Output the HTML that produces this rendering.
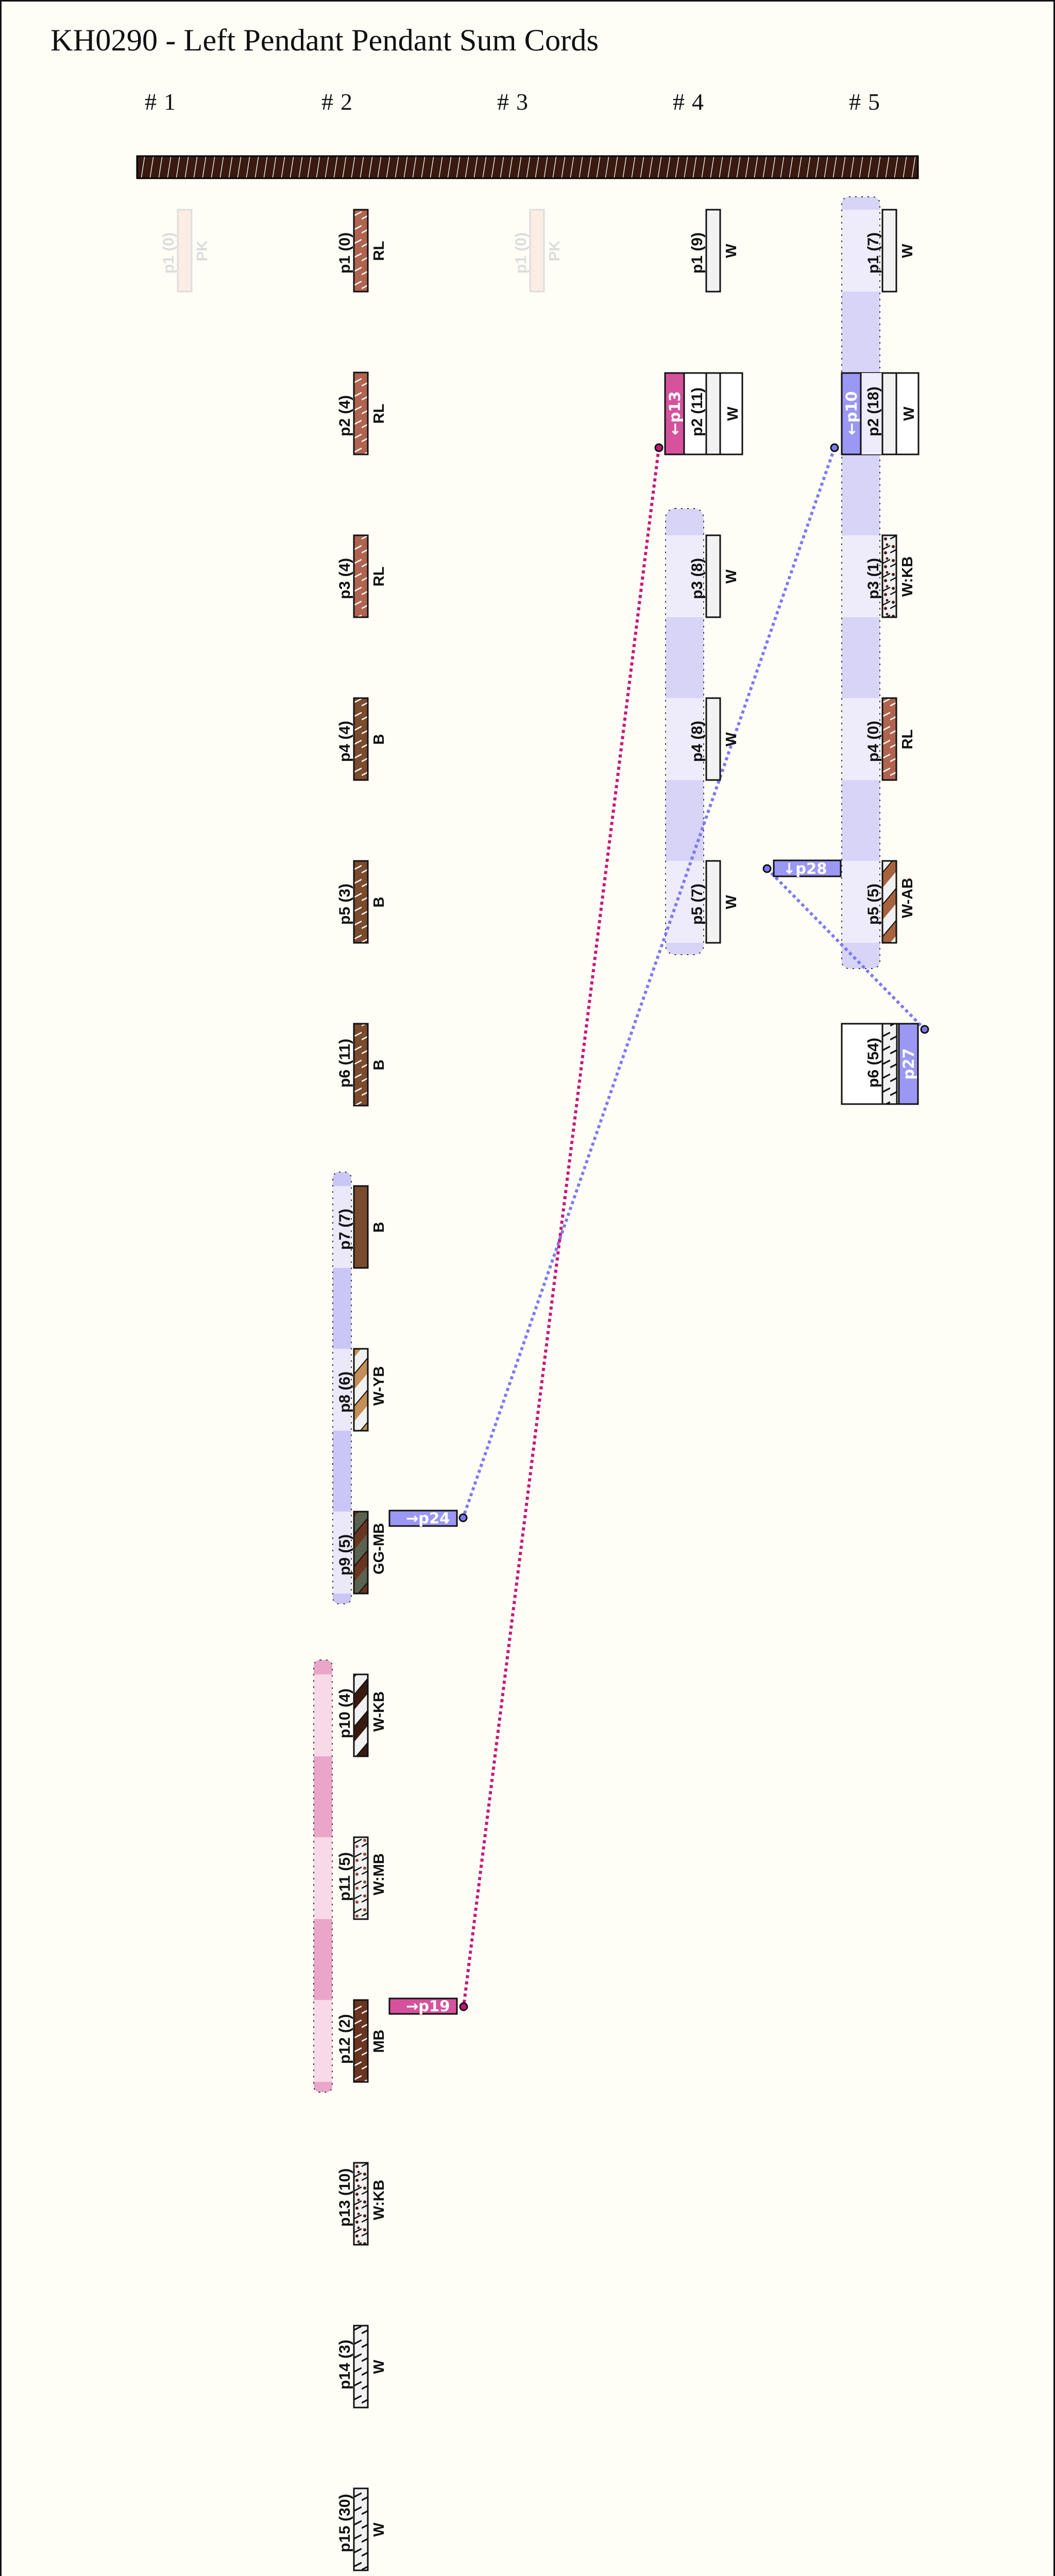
<!DOCTYPE html>
<html><head><meta charset="utf-8"><style>
html,body{margin:0;padding:0;background:#fefef7;width:2048px;height:5406px;overflow:hidden}
svg{display:block}
.pl{font-family:"Liberation Sans","DejaVu Sans",sans-serif;font-size:30px;font-weight:bold;fill:#111}
.cl{font-family:"Liberation Sans","DejaVu Sans",sans-serif;font-size:29px;font-weight:bold;fill:#111}
.fd{fill:#dcdcdc}
.wt{font-family:"DejaVu Sans","Liberation Sans",sans-serif;font-size:29px;font-weight:bold;fill:#fff}
</style></head><body>
<svg width="2048" height="5406" viewBox="0 0 2048 5406" xmlns="http://www.w3.org/2000/svg">
<defs>
<pattern id="bar" width="17" height="45" patternUnits="userSpaceOnUse" y="302"><rect width="17" height="45" fill="#3a1a10"/><line x1="2" y1="45" x2="9" y2="0" stroke="#fff" stroke-width="1.3"/></pattern>
<pattern id="rl" width="27" height="27" patternUnits="userSpaceOnUse"><rect width="27" height="27" fill="#b0644f"/><line x1="0" y1="20" x2="27" y2="6" stroke="#fff" stroke-width="2.5"/></pattern>
<pattern id="b" width="27" height="27" patternUnits="userSpaceOnUse"><rect width="27" height="27" fill="#7a4b2d"/><line x1="0" y1="20" x2="27" y2="6" stroke="#fff" stroke-width="2.5"/></pattern>
<pattern id="mb" width="27" height="27" patternUnits="userSpaceOnUse"><rect width="27" height="27" fill="#6a3520"/><line x1="0" y1="20" x2="27" y2="6" stroke="#fff" stroke-width="2.5"/></pattern>
<pattern id="w" width="27" height="27" patternUnits="userSpaceOnUse"><rect width="27" height="27" fill="#f1f1f1"/><line x1="0" y1="20" x2="27" y2="6" stroke="#111" stroke-width="3"/></pattern>
<pattern id="wab" width="40" height="40" patternUnits="userSpaceOnUse" patternTransform="rotate(-50)"><rect width="40" height="40" fill="#f1f1f1"/><rect width="40" height="20" fill="#a8633c"/><line x1="0" y1="0" x2="40" y2="0" stroke="#111" stroke-width="4"/></pattern>
<pattern id="wyb" width="40" height="40" patternUnits="userSpaceOnUse" patternTransform="rotate(-50)"><rect width="40" height="40" fill="#f1f1f1"/><rect width="40" height="20" fill="#c28f58"/><line x1="0" y1="0" x2="40" y2="0" stroke="#111" stroke-width="4"/></pattern>
<pattern id="wkb" width="40" height="40" patternUnits="userSpaceOnUse" patternTransform="rotate(-50)"><rect width="40" height="40" fill="#f1f1f1"/><rect width="40" height="20" fill="#3a1a10"/><line x1="0" y1="0" x2="40" y2="0" stroke="#111" stroke-width="4"/></pattern>
<pattern id="ggmb" width="40" height="40" patternUnits="userSpaceOnUse" patternTransform="rotate(-50)"><rect width="40" height="40" fill="#5c6250"/><rect width="40" height="20" fill="#6a3520"/><line x1="0" y1="0" x2="40" y2="0" stroke="#111" stroke-width="4"/></pattern>
<pattern id="spk" width="27" height="27" patternUnits="userSpaceOnUse"><rect width="27" height="27" fill="#f1f1f1"/><line x1="0" y1="20" x2="27" y2="6" stroke="#111" stroke-width="2.5"/><circle cx="6" cy="8" r="3" fill="#4a1a10"/><circle cx="18" cy="20" r="3" fill="#4a1a10"/><circle cx="21" cy="4" r="2.5" fill="#4a1a10"/></pattern>
<pattern id="spm" width="27" height="27" patternUnits="userSpaceOnUse"><rect width="27" height="27" fill="#f1f1f1"/><line x1="0" y1="20" x2="27" y2="6" stroke="#111" stroke-width="2.5"/><circle cx="6" cy="8" r="3" fill="#8a4a2a"/><circle cx="18" cy="20" r="3" fill="#8a4a2a"/></pattern>
</defs>
<rect x="1.5" y="1.5" width="2045" height="5403" fill="#fefef7" stroke="#111" stroke-width="3"/>
<text x="98" y="98" font-family="Liberation Serif,serif" font-size="60" textLength="1064" lengthAdjust="spacingAndGlyphs" fill="#111">KH0290 - Left Pendant Pendant Sum Cords</text>
<g font-family="Liberation Serif,serif" font-size="46" fill="#111">
<text x="281" y="213">#</text><text x="318" y="213">1</text>
<text x="624" y="213">#</text><text x="661" y="213">2</text>
<text x="965" y="213">#</text><text x="1002" y="213">3</text>
<text x="1306" y="213">#</text><text x="1343" y="213">4</text>
<text x="1648" y="213">#</text><text x="1685" y="213">5</text>
</g>
<rect x="266" y="303" width="1516" height="43" fill="url(#bar)" stroke="#000" stroke-width="3"/>

<rect x="1634" y="382" width="74" height="1498" rx="14" fill="#d7d4f7"/>
<g fill="#eeecfa"><rect x="1634" y="407" width="74" height="159"/><rect x="1634" y="723" width="74" height="159"/><rect x="1634" y="1039" width="74" height="159"/><rect x="1634" y="1355" width="74" height="159"/><rect x="1634" y="1671" width="74" height="159"/></g>
<rect x="1634" y="382" width="74" height="1498" rx="14" fill="none" stroke="#333" stroke-width="2" stroke-dasharray="3 9"/>

<rect x="1292" y="987" width="74" height="866" rx="18" fill="#d7d4f7"/>
<g fill="#eeecfa"><rect x="1292" y="1039" width="74" height="159"/><rect x="1292" y="1355" width="74" height="159"/><rect x="1292" y="1671" width="74" height="159"/></g>
<rect x="1292" y="987" width="74" height="866" rx="18" fill="none" stroke="#333" stroke-width="2" stroke-dasharray="3 9"/>

<rect x="646" y="2275" width="36" height="838" rx="12" fill="#cac7f7"/>
<g fill="#eae8f9"><rect x="646" y="2302" width="36" height="159"/><rect x="646" y="2618" width="36" height="159"/><rect x="646" y="2934" width="36" height="159"/></g>
<rect x="646" y="2275" width="36" height="838" rx="12" fill="none" stroke="#333" stroke-width="2" stroke-dasharray="3 9"/>

<rect x="609" y="3222" width="36" height="839" rx="12" fill="#eaa6c9"/>
<g fill="#f8d9e6"><rect x="609" y="3250" width="36" height="159"/><rect x="609" y="3566" width="36" height="159"/><rect x="609" y="3882" width="36" height="159"/></g>
<rect x="609" y="3222" width="36" height="839" rx="12" fill="none" stroke="#333" stroke-width="2" stroke-dasharray="3 9"/>

<g fill="none" stroke-width="6" stroke-dasharray="6 6">
<line x1="1279" y1="869" x2="900" y2="3895" stroke="#c8157a"/>
<line x1="1620" y1="869" x2="899" y2="2946" stroke="#7d79f2"/>
<line x1="1489" y1="1686" x2="1795" y2="1998" stroke="#7d79f2"/>
</g>

<rect x="345" y="407" width="27" height="159" fill="#fbece4" stroke="#ddd" stroke-width="3"/>
<text class="pl fd" transform="translate(337,531) rotate(-90)">p1 (0)</text>
<text class="cl fd" transform="translate(402,487) rotate(-90)" text-anchor="middle">PK</text>
<rect x="1029" y="407" width="27" height="159" fill="#fbece4" stroke="#ddd" stroke-width="3"/>
<text class="pl fd" transform="translate(1021,531) rotate(-90)">p1 (0)</text>
<text class="cl fd" transform="translate(1086,487) rotate(-90)" text-anchor="middle">PK</text>

<g stroke="#111" stroke-width="3">
<rect x="687" y="407" width="27" height="159" fill="url(#rl)"/>
<rect x="687" y="723" width="27" height="159" fill="url(#rl)"/>
<rect x="687" y="1039" width="27" height="159" fill="url(#rl)"/>
<rect x="687" y="1355" width="27" height="159" fill="url(#b)"/>
<rect x="687" y="1671" width="27" height="159" fill="url(#b)"/>
<rect x="687" y="1987" width="27" height="159" fill="url(#b)"/>
<rect x="687" y="2302" width="27" height="159" fill="#7a4b2d"/>
<rect x="687" y="2618" width="27" height="159" fill="url(#wyb)"/>
<rect x="687" y="2934" width="27" height="159" fill="url(#ggmb)"/>
<rect x="687" y="3250" width="27" height="159" fill="url(#wkb)"/>
<rect x="687" y="3566" width="27" height="159" fill="url(#spm)"/>
<rect x="687" y="3882" width="27" height="159" fill="url(#mb)"/>
<rect x="687" y="4198" width="27" height="159" fill="url(#spk)"/>
<rect x="687" y="4514" width="27" height="159" fill="url(#w)"/>
<rect x="687" y="4830" width="27" height="159" fill="url(#w)"/>
</g>
<text class="pl" transform="translate(679,531) rotate(-90)">p1 (0)</text>
<text class="pl" transform="translate(679,847) rotate(-90)">p2 (4)</text>
<text class="pl" transform="translate(679,1163) rotate(-90)">p3 (4)</text>
<text class="pl" transform="translate(679,1479) rotate(-90)">p4 (4)</text>
<text class="pl" transform="translate(679,1795) rotate(-90)">p5 (3)</text>
<text class="pl" transform="translate(679,2111) rotate(-90)">p6 (11)</text>
<text class="pl" transform="translate(679,2426) rotate(-90)">p7 (7)</text>
<text class="pl" transform="translate(679,2742) rotate(-90)">p8 (6)</text>
<text class="pl" transform="translate(679,3058) rotate(-90)">p9 (5)</text>
<text class="pl" transform="translate(679,3374) rotate(-90)">p10 (4)</text>
<text class="pl" transform="translate(679,3690) rotate(-90)">p11 (5)</text>
<text class="pl" transform="translate(679,4006) rotate(-90)">p12 (2)</text>
<text class="pl" transform="translate(679,4322) rotate(-90)">p13 (10)</text>
<text class="pl" transform="translate(679,4638) rotate(-90)">p14 (3)</text>
<text class="pl" transform="translate(679,4954) rotate(-90)">p15 (30)</text>
<text class="cl" transform="translate(745,487) rotate(-90)" text-anchor="middle">RL</text>
<text class="cl" transform="translate(745,803) rotate(-90)" text-anchor="middle">RL</text>
<text class="cl" transform="translate(745,1119) rotate(-90)" text-anchor="middle">RL</text>
<text class="cl" transform="translate(745,1435) rotate(-90)" text-anchor="middle">B</text>
<text class="cl" transform="translate(745,1751) rotate(-90)" text-anchor="middle">B</text>
<text class="cl" transform="translate(745,2067) rotate(-90)" text-anchor="middle">B</text>
<text class="cl" transform="translate(745,2382) rotate(-90)" text-anchor="middle">B</text>
<text class="cl" transform="translate(745,2690) rotate(-90)" text-anchor="middle">W-YB</text>
<text class="cl" transform="translate(745,3006) rotate(-90)" text-anchor="middle">GG-MB</text>
<text class="cl" transform="translate(745,3322) rotate(-90)" text-anchor="middle">W-KB</text>
<text class="cl" transform="translate(745,3638) rotate(-90)" text-anchor="middle">W:MB</text>
<text class="cl" transform="translate(745,3962) rotate(-90)" text-anchor="middle">MB</text>
<text class="cl" transform="translate(745,4270) rotate(-90)" text-anchor="middle">W:KB</text>
<text class="cl" transform="translate(745,4594) rotate(-90)" text-anchor="middle">W</text>
<text class="cl" transform="translate(745,4910) rotate(-90)" text-anchor="middle">W</text>

<rect x="756" y="2932" width="131" height="30" fill="#9b97f5" stroke="#111" stroke-width="3"/>
<text class="wt" x="788" y="2957">→p24</text>
<circle cx="899" cy="2946" r="7" fill="#7d79f2" stroke="#111" stroke-width="3"/>
<rect x="756" y="3879" width="131" height="30" fill="#d6529c" stroke="#111" stroke-width="3"/>
<text class="wt" x="788" y="3904">→p19</text>
<circle cx="900" cy="3895" r="7" fill="#c8157a" stroke="#111" stroke-width="3"/>

<g stroke="#111" stroke-width="3">
<rect x="1371" y="407" width="27" height="159" fill="#f2f2f2"/>
<rect x="1291" y="724" width="150" height="158" fill="#fff"/>
<rect x="1291" y="724" width="37" height="158" fill="#d6529c"/>
<rect x="1371" y="724" width="27" height="158" fill="#f2f2f2"/>
<rect x="1371" y="1039" width="27" height="159" fill="#f2f2f2"/>
<rect x="1371" y="1355" width="27" height="159" fill="#f2f2f2"/>
<rect x="1371" y="1671" width="27" height="159" fill="#f2f2f2"/>
</g>
<text class="wt" transform="translate(1320,802) rotate(-90)" text-anchor="middle">←p13</text>
<circle cx="1279" cy="869" r="7" fill="#c8157a" stroke="#111" stroke-width="3"/>
<text class="pl" transform="translate(1363,531) rotate(-90)">p1 (9)</text>
<text class="pl" transform="translate(1363,847) rotate(-90)">p2 (11)</text>
<text class="pl" transform="translate(1363,1163) rotate(-90)">p3 (8)</text>
<text class="pl" transform="translate(1363,1479) rotate(-90)">p4 (8)</text>
<text class="pl" transform="translate(1363,1795) rotate(-90)">p5 (7)</text>
<text class="cl" transform="translate(1429,487) rotate(-90)" text-anchor="middle">W</text>
<text class="cl" transform="translate(1432,803) rotate(-90)" text-anchor="middle">W</text>
<text class="cl" transform="translate(1429,1119) rotate(-90)" text-anchor="middle">W</text>
<text class="cl" transform="translate(1429,1435) rotate(-90)" text-anchor="middle">W</text>
<text class="cl" transform="translate(1429,1751) rotate(-90)" text-anchor="middle">W</text>

<g stroke="#111" stroke-width="3">
<rect x="1713" y="407" width="27" height="159" fill="#f2f2f2"/>
<rect x="1634" y="724" width="149" height="158" fill="#fff"/>
<rect x="1671" y="724" width="41" height="158" fill="#eeecfa" stroke="none"/>
<rect x="1634" y="724" width="37" height="158" fill="#9b97f5"/>
<rect x="1713" y="724" width="27" height="158" fill="#f2f2f2"/>
<rect x="1713" y="1039" width="27" height="159" fill="url(#spk)"/>
<rect x="1713" y="1355" width="27" height="159" fill="url(#rl)"/>
<rect x="1713" y="1671" width="27" height="159" fill="url(#wab)"/>
<rect x="1634" y="1987" width="148" height="156" fill="#fff"/>
<rect x="1713" y="1987" width="28" height="156" fill="url(#w)"/>
<rect x="1745" y="1987" width="37" height="156" fill="#9b97f5"/>
</g>
<text class="wt" transform="translate(1663,802) rotate(-90)" text-anchor="middle">←p10</text>
<circle cx="1620" cy="869" r="7" fill="#7d79f2" stroke="#111" stroke-width="3"/>
<text class="wt" transform="translate(1774,2065) rotate(-90)" text-anchor="middle">p27</text>
<circle cx="1795" cy="1998" r="7" fill="#7d79f2" stroke="#111" stroke-width="3"/>
<rect x="1502" y="1670" width="130" height="31" fill="#9b97f5" stroke="#111" stroke-width="3"/>
<text class="wt" x="1520" y="1696">↓p28</text>
<circle cx="1489" cy="1686" r="7" fill="#7d79f2" stroke="#111" stroke-width="3"/>
<text class="pl" transform="translate(1705,531) rotate(-90)">p1 (7)</text>
<text class="pl" transform="translate(1705,847) rotate(-90)">p2 (18)</text>
<text class="pl" transform="translate(1705,1163) rotate(-90)">p3 (1)</text>
<text class="pl" transform="translate(1705,1479) rotate(-90)">p4 (0)</text>
<text class="pl" transform="translate(1705,1795) rotate(-90)">p5 (5)</text>
<text class="pl" transform="translate(1705,2111) rotate(-90)">p6 (54)</text>
<text class="cl" transform="translate(1771,487) rotate(-90)" text-anchor="middle">W</text>
<text class="cl" transform="translate(1774,803) rotate(-90)" text-anchor="middle">W</text>
<text class="cl" transform="translate(1771,1119) rotate(-90)" text-anchor="middle">W:KB</text>
<text class="cl" transform="translate(1771,1435) rotate(-90)" text-anchor="middle">RL</text>
<text class="cl" transform="translate(1771,1743) rotate(-90)" text-anchor="middle">W-AB</text>
</svg>
</body></html>
